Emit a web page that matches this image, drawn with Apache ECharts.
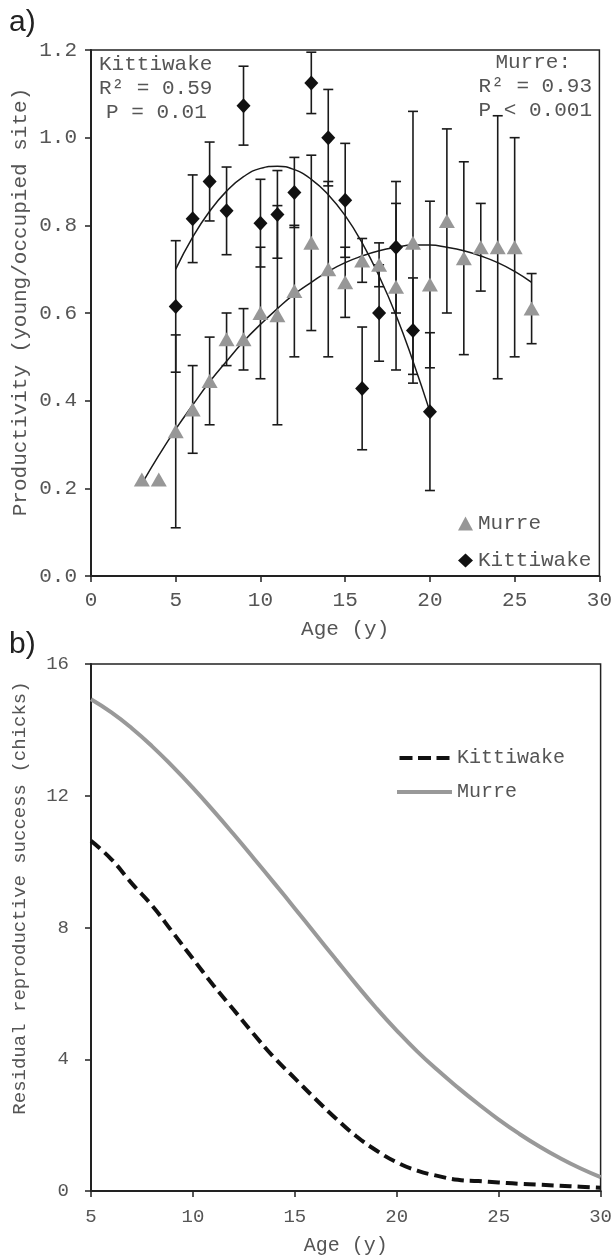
<!DOCTYPE html>
<html><head><meta charset="utf-8">
<script src="https://cdn.jsdelivr.net/npm/echarts@6/dist/echarts.min.js"></script>
<style>html,body{margin:0;padding:0;background:#fff}#c{width:615px;height:1258px}</style>
</head><body><div id="c"></div>
<script>
// ---- Panel a: productivity by age ----
const murreAge  = [3,4,5,6,7,8,9,10,11,12,13,14,15,16,17,18,19,20,21,22,23,24,25,26];
const murreMean = [0.22,0.22,0.33,0.38,0.445,0.54,0.54,0.60,0.595,0.65,0.76,0.70,0.67,0.72,0.71,0.66,0.76,0.665,0.81,0.725,0.75,0.75,0.75,0.61];
const murreErr  = [null,null,0.22,0.10,0.10,0.06,0.07,0.15,0.25,0.15,0.20,0.20,0.08,0.05,0.05,0.19,0.30,0.19,0.21,0.22,0.10,0.30,0.25,0.08];

const kittiAge  = [5,6,7,8,9,10,11,12,13,14,15,16,17,18,19,20];
const kittiMean = [0.615,0.815,0.90,0.833,1.073,0.805,0.825,0.875,1.125,1.0,0.857,0.428,0.60,0.75,0.56,0.375];
const kittiErr  = [0.15,0.10,0.09,0.10,0.09,0.10,0.10,0.08,0.07,0.11,0.13,0.14,0.11,0.15,0.12,0.18];

// fitted curves
const murreFitAge = [3,4,5,6,7,8,9,10,11,12,13,14,15,16,17,18,19,20,21,22,23,24,25,26];
const murreFit    = [0.21,0.275,0.335,0.39,0.443,0.49,0.535,0.574,0.61,0.643,0.67,0.695,0.715,0.73,0.742,0.75,0.755,0.755,0.75,0.742,0.73,0.715,0.695,0.67];
const kittiFitAge = [5,6,7,8,9,10,11,12,13,14,15,16,17,18,19,20];
const kittiFit    = [0.70,0.773,0.832,0.878,0.911,0.930,0.935,0.927,0.905,0.870,0.822,0.760,0.684,0.595,0.49,0.375];

// ---- Panel b: residual reproductive success ----
const rrsAge   = [5,6,7,8,9,10,11,12,13,14,15,16,17,18,19,20,21,22,23,24,25,26,27,28,29,30];
const kittiRRS = [10.63,10.07,9.34,8.66,7.86,7.05,6.25,5.50,4.75,4.04,3.42,2.80,2.21,1.67,1.23,0.87,0.62,0.46,0.34,0.30,0.26,0.22,0.19,0.16,0.13,0.10];
const murreRRS = [14.93,14.53,14.05,13.50,12.89,12.24,11.55,10.83,10.09,9.34,8.58,7.81,7.04,6.28,5.55,4.87,4.24,3.67,3.14,2.64,2.17,1.74,1.35,1.00,0.69,0.42];

const MONO = '"Liberation Mono","Courier New",monospace';
const LABEL = '#555';
const AXIS = '#222';

function zip(a, b) { return a.map((v, i) => [v, b[i]]); }

function errSeries(name, ages, means, errs) {
  const data = [];
  ages.forEach((a, i) => { if (errs[i] != null) data.push([a, means[i] - errs[i], means[i] + errs[i]]); });
  return {
    type: 'custom', name: name, xAxisIndex: 0, yAxisIndex: 0, z: 2, silent: true,
    encode: { x: 0, y: [1, 2] },
    renderItem: function (params, api) {
      const x = api.value(0);
      const lo = api.coord([x, api.value(1)]);
      const hi = api.coord([x, api.value(2)]);
      const w = 5;
      const style = { stroke: '#1a1a1a', lineWidth: 1.6 };
      return { type: 'group', children: [
        { type: 'line', shape: { x1: lo[0], y1: lo[1], x2: hi[0], y2: hi[1] }, style: style },
        { type: 'line', shape: { x1: lo[0] - w, y1: lo[1], x2: lo[0] + w, y2: lo[1] }, style: style },
        { type: 'line', shape: { x1: hi[0] - w, y1: hi[1], x2: hi[0] + w, y2: hi[1] }, style: style }
      ]};
    },
    data: data
  };
}

function axisCommon(fontSize, margin) {
  return {
    axisLine: { onZero: false, lineStyle: { color: AXIS, width: 2 } },
    axisTick: { show: true, length: 6, lineStyle: { color: AXIS, width: 1.5 } },
    splitLine: { show: false },
    axisLabel: { color: LABEL, fontFamily: MONO, fontSize: fontSize, margin: margin }
  };
}

const option = {
  animation: false,
  backgroundColor: '#fff',
  grid: [
    { left: 91, top: 50, width: 512, height: 526, show: true, borderColor: AXIS, borderWidth: 1.5, backgroundColor: 'transparent' },
    { left: 91, top: 664, width: 512, height: 527, show: true, borderColor: AXIS, borderWidth: 1.5, backgroundColor: 'transparent' }
  ],
  xAxis: [
    Object.assign(axisCommon(21, 14), {
      type: 'value', gridIndex: 0, min: 0, max: 30, interval: 5,
      name: 'Age (y)', nameLocation: 'middle', nameGap: 43,
      nameTextStyle: { color: LABEL, fontFamily: MONO, fontSize: 21 }
    }),
    Object.assign(axisCommon(19, 16), {
      type: 'value', gridIndex: 1, min: 5, max: 30, interval: 5,
      name: 'Age (y)', nameLocation: 'middle', nameGap: 45,
      nameTextStyle: { color: LABEL, fontFamily: MONO, fontSize: 20 }
    })
  ],
  yAxis: [
    Object.assign(axisCommon(21, 14), {
      type: 'value', gridIndex: 0, min: 0, max: 1.2, interval: 0.2
    }),
    Object.assign(axisCommon(19, 22), {
      type: 'value', gridIndex: 1, min: 0, max: 16, interval: 4
    })
  ],
  legend: [
    {
      data: ['Murre', 'Kittiwake'], orient: 'vertical', left: 453, top: 508,
      itemWidth: 15, itemHeight: 14, itemGap: 16,
      textStyle: { color: LABEL, fontFamily: MONO, fontSize: 21 }, selectedMode: false
    },
    {
      data: [
        { name: 'Kittiwake RRS', icon: 'path://M0,0h13v4h-13z M18.5,0h13v4h-13z M37,0h13v4h-13z' },
        { name: 'Murre RRS', icon: 'rect' }
      ],
      orient: 'vertical', left: 392, top: 743,
      itemWidth: 55, itemHeight: 4, itemGap: 14,
      formatter: function (n) { return n.replace(' RRS', ''); },
      textStyle: { color: LABEL, fontFamily: MONO, fontSize: 20 }, selectedMode: false
    }
  ],
  graphic: [
    { type: 'text', left: 9, top: 8, style: { text: 'a)', font: '30px "Liberation Sans", Arial, sans-serif', fill: '#222' } },
    { type: 'text', left: 9, top: 630, style: { text: 'b)', font: '30px "Liberation Sans", Arial, sans-serif', fill: '#222' } },
    { type: 'text', x: 20, y: 302, rotation: Math.PI / 2,
      style: { text: 'Productivity (young/occupied site)', font: '21px ' + MONO, fill: LABEL, align: 'center', verticalAlign: 'middle' } },
    { type: 'text', x: 20, y: 898, rotation: Math.PI / 2,
      style: { text: 'Residual reproductive success (chicks)', font: '19px ' + MONO, fill: LABEL, align: 'center', verticalAlign: 'middle' } },
    { type: 'text', x: 99, y: 64, style: { text: 'Kittiwake', font: '21px ' + MONO, fill: LABEL, align: 'left', verticalAlign: 'middle' } },
    { type: 'text', x: 99, y: 88, style: { text: 'R\u00B2 = 0.59', font: '21px ' + MONO, fill: LABEL, align: 'left', verticalAlign: 'middle' } },
    { type: 'text', x: 106, y: 112, style: { text: 'P = 0.01', font: '21px ' + MONO, fill: LABEL, align: 'left', verticalAlign: 'middle' } },
    { type: 'text', x: 571, y: 62, style: { text: 'Murre:', font: '21px ' + MONO, fill: LABEL, align: 'right', verticalAlign: 'middle' } },
    { type: 'text', x: 592, y: 86, style: { text: 'R\u00B2 = 0.93', font: '21px ' + MONO, fill: LABEL, align: 'right', verticalAlign: 'middle' } },
    { type: 'text', x: 592, y: 110, style: { text: 'P < 0.001', font: '21px ' + MONO, fill: LABEL, align: 'right', verticalAlign: 'middle' } }
  ],
  series: [
    errSeries('Murre SE', murreAge, murreMean, murreErr),
    errSeries('Kittiwake SE', kittiAge, kittiMean, kittiErr),
    {
      type: 'line', name: 'Murre fit', xAxisIndex: 0, yAxisIndex: 0, smooth: true, symbol: 'none', z: 3,
      lineStyle: { color: '#1a1a1a', width: 1.5 }, data: zip(murreFitAge, murreFit), silent: true
    },
    {
      type: 'line', name: 'Kittiwake fit', xAxisIndex: 0, yAxisIndex: 0, smooth: true, symbol: 'none', z: 3,
      lineStyle: { color: '#1a1a1a', width: 1.5 }, data: zip(kittiFitAge, kittiFit), silent: true
    },
    {
      type: 'scatter', name: 'Murre', xAxisIndex: 0, yAxisIndex: 0, symbol: 'triangle', symbolSize: [16, 14], z: 4,
      itemStyle: { color: '#979797', opacity: 1 }, data: zip(murreAge, murreMean)
    },
    {
      type: 'scatter', name: 'Kittiwake', xAxisIndex: 0, yAxisIndex: 0, symbol: 'diamond', symbolSize: [14, 15], z: 5,
      itemStyle: { color: '#111', opacity: 1 }, data: zip(kittiAge, kittiMean)
    },
    {
      type: 'line', name: 'Kittiwake RRS', xAxisIndex: 1, yAxisIndex: 1, smooth: true, symbol: 'none', showSymbol: false,
      lineStyle: { color: '#111', width: 4, type: [12, 6], cap: 'butt' }, itemStyle: { color: '#111' },
      data: zip(rrsAge, kittiRRS)
    },
    {
      type: 'line', name: 'Murre RRS', xAxisIndex: 1, yAxisIndex: 1, smooth: true, symbol: 'none', showSymbol: false,
      lineStyle: { color: '#999', width: 4 }, itemStyle: { color: '#999' },
      data: zip(rrsAge, murreRRS)
    }
  ]
};
option.yAxis[0].axisLabel.formatter = function (v) { return v.toFixed(1); };

const chart = echarts.init(document.getElementById('c'));
chart.setOption(option);
</script>
</body></html>
